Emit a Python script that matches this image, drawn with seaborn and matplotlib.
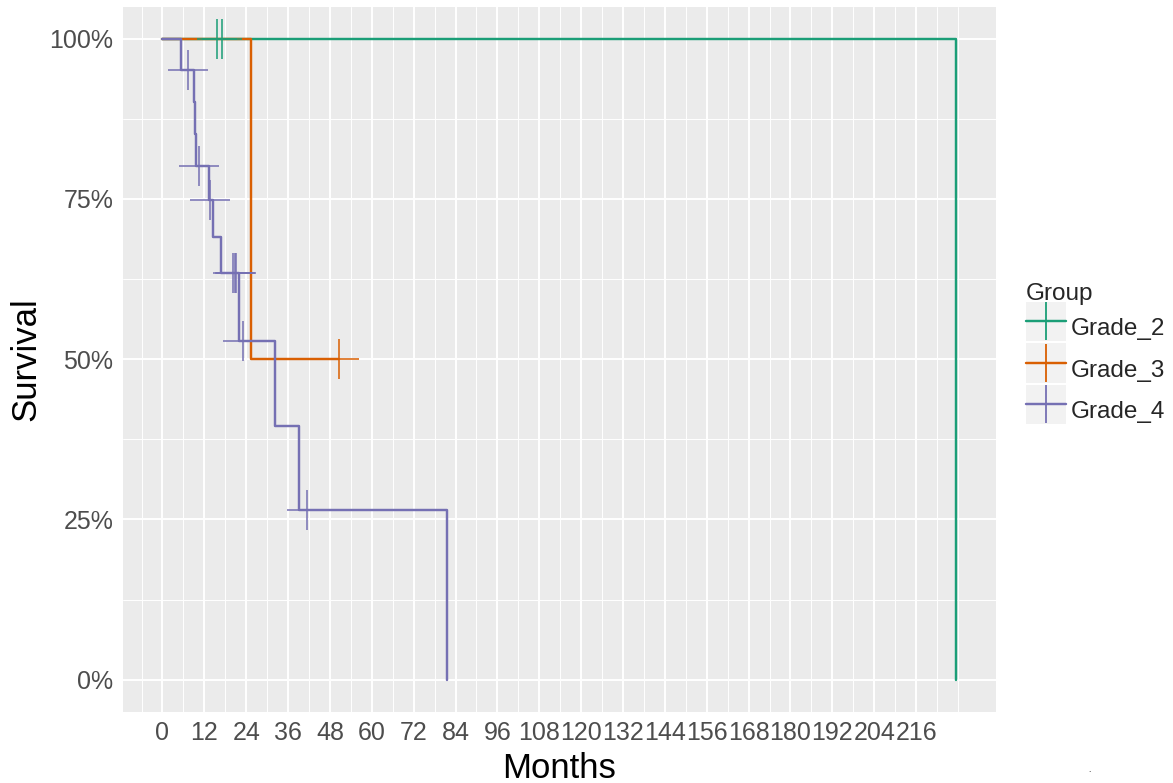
import numpy as np
import pandas as pd
import matplotlib
matplotlib.use("Agg")
import matplotlib.pyplot as plt
from matplotlib.lines import Line2D
from matplotlib.patches import Rectangle
import seaborn as sns

# ---------------- data ----------------
groups = ["Grade_2", "Grade_3", "Grade_4"]
colors = ["#1B9E77", "#D95F02", "#7570B3"]

# step curves: time of each step (months) and survival after it
g2_times = [0.0, 227.5]
g2_surv = [1.0, 0.0]
g2_censor = [15.5, 17.2]

g3_times = [0.0, 25.3, 50.5]
g3_surv = [1.0, 0.5, 0.5]
g3_censor = [50.5]

g4_times = [0.0, 5.4, 9.1, 9.4, 9.6, 13.3, 14.4, 16.9, 21.8, 32.2, 39.2, 81.6]
g4_surv = [1.0, 0.952, 0.902, 0.852, 0.802, 0.749, 0.691, 0.634, 0.528, 0.396, 0.264, 0.0]
g4_censor = [7.2, 10.5, 13.6, 20.1, 20.7, 21.2, 23.1, 41.5]

x_ticks = list(range(0, 217, 12))
y_ticks = [0.0, 0.25, 0.5, 0.75, 1.0]
y_labels = ["0%", "25%", "50%", "75%", "100%"]

# ---------------- build tables ----------------
curve_rows = []
cens_rows = []
for name, t, s, c in [("Grade_2", g2_times, g2_surv, g2_censor),
                      ("Grade_3", g3_times, g3_surv, g3_censor),
                      ("Grade_4", g4_times, g4_surv, g4_censor)]:
    for ti, si in zip(t, s):
        curve_rows.append({"Months": ti, "Survival": si, "Group": name})
    ta = np.asarray(t)
    sa = np.asarray(s)
    for ci in c:
        idx = np.searchsorted(ta, ci, side="right") - 1
        cens_rows.append({"Months": ci, "Survival": sa[idx], "Group": name})
curves = pd.DataFrame(curve_rows)
cens = pd.DataFrame(cens_rows)
palette = dict(zip(groups, colors))

# ---------------- style ----------------
sns.set_theme(style="darkgrid", rc={
    "axes.facecolor": "#EBEBEB",
    "grid.color": "white",
})
plt.rcParams["font.family"] = ["Liberation Sans", "DejaVu Sans"]

W, H = 1173, 783
fig = plt.figure(figsize=(W / 100, H / 100), dpi=100)
ax = fig.add_axes([122.7 / W, 1 - 711.7 / H, (996.0 - 122.7) / W, (711.7 - 6.7) / H])

sns.lineplot(data=curves, x="Months", y="Survival", hue="Group", hue_order=groups,
             palette=palette, estimator=None, sort=False, drawstyle="steps-post",
             linewidth=1.75, legend=False, ax=ax, zorder=3)
sns.scatterplot(data=cens, x="Months", y="Survival", hue="Group", hue_order=groups,
                palette=palette, marker="+", s=830, linewidth=1.3, alpha=0.85,
                legend=False, ax=ax, zorder=4)

# axes scales
ax.set_xlim(-11.4, 238.9)
ax.set_ylim(-0.05, 1.05)
ax.set_xticks(x_ticks)
ax.set_xticklabels([str(v) for v in x_ticks])
ax.set_xticks([v for v in np.arange(-6, 229, 6) if v % 12 != 0 or v > 216], minor=True)
ax.set_yticks(y_ticks)
ax.set_yticklabels(y_labels)
ax.set_yticks([0.125, 0.375, 0.625, 0.875], minor=True)

ax.grid(which="major", color="white", linewidth=1.4)
ax.grid(which="minor", color="white", linewidth=0.7)
ax.set_axisbelow(True)
for sp in ax.spines.values():
    sp.set_visible(False)

ax.tick_params(axis="both", which="major", length=4.3, width=1.1, color="#333333",
               labelsize=18, labelcolor="#4D4D4D", pad=2.5)
ax.tick_params(axis="both", which="minor", length=0)

ax.set_xlabel("Months", fontsize=25, color="black", labelpad=5)
ax.set_ylabel("Survival", fontsize=25, color="black", labelpad=5)

# ---------------- legend ----------------
fs = 17.5
px = fs * 100 / 72.0
key_px = 39.5
hh = (key_px / px - 0.245) / 0.65
handles = [Line2D([], [], color=c, lw=1.75, marker="+", markersize=28, mew=1.3)
           for c in colors]
leg = fig.legend(handles, groups, title="Group", loc="upper left",
                 bbox_to_anchor=(1026 / W, 1 - 283 / H), frameon=False,
                 fontsize=fs, title_fontsize=fs, handlelength=key_px / px,
                 handleheight=hh, handletextpad=5 / px, labelspacing=2 / px,
                 borderpad=0, borderaxespad=0, alignment="left")
leg._legend_box.sep = 2

fig.canvas.draw()
inv = fig.transFigure.inverted()
for h in leg.legend_handles:
    bb = h.get_window_extent()
    cx = (bb.x0 + bb.x1) / 2
    cy = (bb.y0 + bb.y1) / 2
    (fx0, fy0) = inv.transform((cx - key_px / 2, cy - key_px / 2))
    (fx1, fy1) = inv.transform((cx + key_px / 2, cy + key_px / 2))
    fig.patches.append(Rectangle((fx0, fy0), fx1 - fx0, fy1 - fy0, transform=fig.transFigure,
                                 facecolor="#F2F2F2", edgecolor="none", zorder=-1))

fig.text(1088 / W, 1 - 772 / H, ".", fontsize=6, color="black")

fig.savefig("out.png", dpi=100)
